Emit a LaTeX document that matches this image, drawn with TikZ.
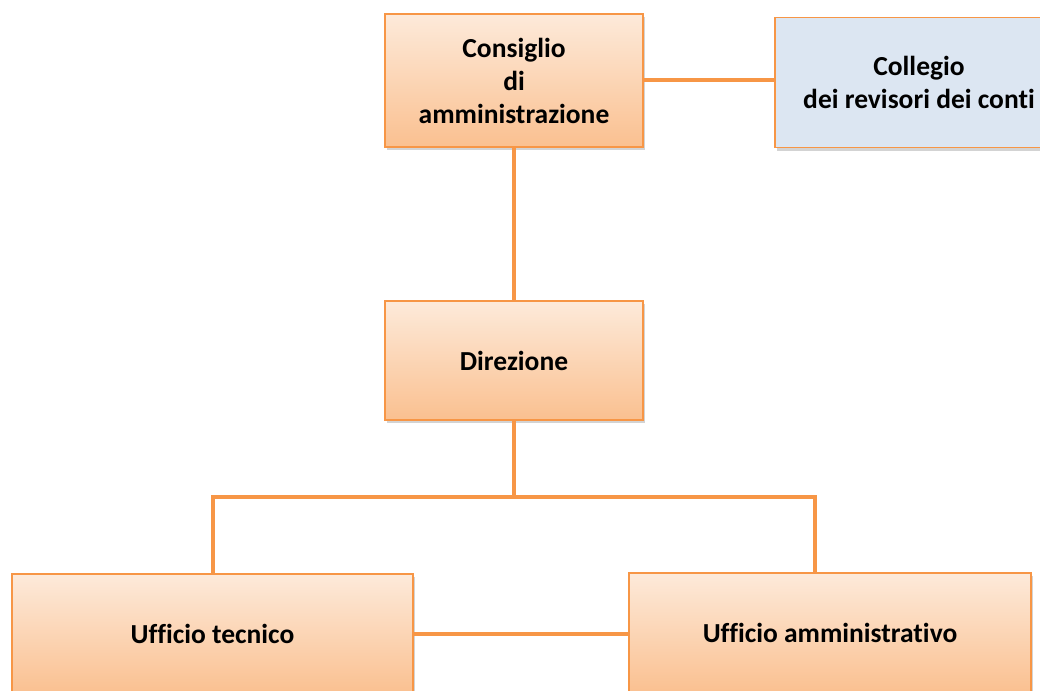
\documentclass[tikz,border=0pt]{standalone}
\usepackage{fontspec}
\setmainfont{Carlito}[Ligatures={NoCommon}]
\usepackage{xcolor}
\usepackage{tikz}
\usetikzlibrary{positioning,shadows}
\definecolor{OrgLine}{HTML}{F79646}
\definecolor{OrgTop}{HTML}{FDEADA}
\definecolor{OrgBottom}{HTML}{FAC090}
\definecolor{RevBlue}{HTML}{DCE6F2}

\begin{document}
\begin{tikzpicture}[
      x=1pt, y=-1pt,
      every node/.style={align=center, font=\bfseries\fontsize{27.5}{33}\selectfont},
      unit/.style={draw=OrgLine, line width=1.5pt, top color=OrgTop, bottom color=OrgBottom, drop shadow={opacity=0.35, shadow xshift=2pt, shadow yshift=-3pt}},
      audit/.style={draw=OrgLine, line width=1.5pt, fill=RevBlue, drop shadow={opacity=0.35, shadow xshift=2pt, shadow yshift=-3pt}},
      link/.style={OrgLine, line width=4pt}
    ]
      \useasboundingbox (0,0) rectangle (1040,690);
      \node[unit, minimum width=258pt, minimum height=133pt] (board) at (514,80.5) {Consiglio\\di\\amministrazione};
      \node[audit, minimum width=288pt, minimum height=130pt] (auditors) at (919,82.5) {Collegio\\dei revisori dei conti};
      \node[unit, minimum width=258pt, minimum height=119pt] (direction) at (514,360.5) {Direzione};
      \node[unit, minimum width=401pt, minimum height=120pt] (tecnico) at (212.5,634) {Ufficio tecnico};
      \node[unit, minimum width=402pt, minimum height=120pt] (ammin) at (830,633) {Ufficio amministrativo};
      \coordinate (split) at (514,497);
      \draw[link] (board.east) -- (board.east -| auditors.west);
      \draw[link] (board) -- (direction);
      \draw[link] (direction.south) -- (split);
      \draw[link] (tecnico.north) |- (split) -| ([xshift=-15pt]ammin.north);
      \draw[link] (tecnico.east) -- (tecnico.east -| ammin.west);
    \end{tikzpicture}
\end{document}
